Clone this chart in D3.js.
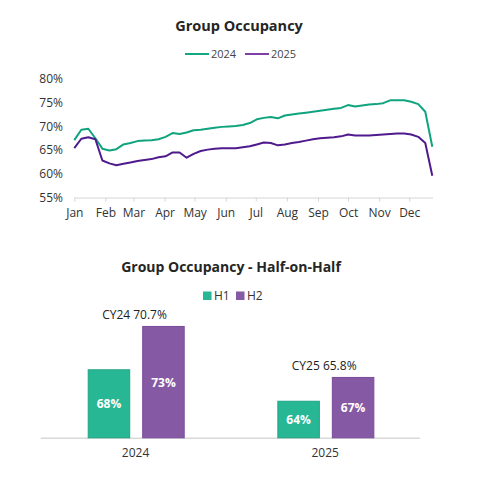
<!DOCTYPE html>
<html><head><meta charset="utf-8">
<script src="https://cdn.jsdelivr.net/npm/d3@7"></script>
<style>
html,body{margin:0;padding:0;background:#fff;}
svg{display:block;font-family:"Open Sans",sans-serif;}
</style></head>
<body><svg id="c" width="500" height="477"></svg>
<script>
// ---- Line chart data (weekly, 2025 calendar positions) ----
const weeks = ["01-01","01-08","01-15","01-22","01-29","02-05","02-12","02-19","02-26","03-05","03-12","03-19","03-26",
"04-02","04-09","04-16","04-23","04-30","05-07","05-14","05-21","05-28","06-04","06-11","06-18","06-25",
"07-02","07-09","07-16","07-23","07-30","08-06","08-13","08-20","08-27","09-03","09-10","09-17","09-24",
"10-01","10-08","10-15","10-22","10-29","11-05","11-12","11-19","11-26","12-03","12-10","12-17","12-24"];
const occ2024 = [67.1,69.3,69.5,67.5,65.3,64.9,65.2,66.2,66.5,66.9,67.0,67.1,67.3,67.8,68.6,68.4,68.7,69.2,69.3,69.5,
69.7,69.9,70.0,70.1,70.3,70.7,71.5,71.8,72.0,71.7,72.3,72.5,72.7,72.9,73.1,73.3,73.5,73.7,73.9,74.5,74.2,74.4,
74.6,74.7,74.9,75.5,75.5,75.5,75.2,74.7,73.1,65.7];
const occ2025 = [65.4,67.4,67.7,67.3,62.8,62.2,61.8,62.1,62.4,62.7,62.9,63.1,63.5,63.7,64.5,64.5,63.4,64.2,64.8,65.1,
65.3,65.4,65.4,65.4,65.6,65.8,66.2,66.6,66.5,66.0,66.2,66.5,66.7,67.0,67.3,67.5,67.6,67.7,67.9,68.3,68.1,68.1,
68.1,68.2,68.3,68.4,68.5,68.5,68.3,67.8,66.5,59.6];
const lineSeries = ["2024","2025"];
const yTicks = [55,60,65,70,75,80];
const monthLabels = ["Jan","Feb","Mar","Apr","May","Jun","Jul","Aug","Sep","Oct","Nov","Dec"];

// ---- Bar chart data ----
const years = ["2024","2025"];
const halves = ["H1","H2"];
const h1Values = [68.0,64.3];
const h2Values = [73.1,67.1];
const yearTotals = ["CY24 70.7%","CY25 65.8%"];

const lineColors = {"2024":"#0fa47f","2025":"#4f1a8e"};
const legendLineColors = {"2024":"#14a882","2025":"#7e3fa6"};
const barColors = {"H1":"#27b795","H2":"#8659a5"};
const barStroke = {"H1":"#1ea584","H2":"#7a4a9a"};

const svg = d3.select("#c");
const parse = d3.timeParse("%Y-%m-%d");

// ===== Line chart =====
svg.append("text").attr("x",239).attr("y",31).attr("text-anchor","middle")
  .attr("font-size",14.5).attr("font-weight",700).attr("fill","#252525").text("Group Occupancy");

// legend
const lg = svg.append("g");
[["2024",185],["2025",245]].forEach(([s,x0])=>{
  lg.append("line").attr("x1",x0).attr("x2",x0+24).attr("y1",54).attr("y2",54)
    .attr("stroke",legendLineColors[s]).attr("stroke-width",2);
  lg.append("text").attr("x",x0+26).attr("y",58).attr("font-size",11).attr("fill","#444").text(s);
});

const x = d3.scaleTime().domain([parse("2025-01-01"),parse("2025-12-24")]).range([74.3,432.3]);
const y = d3.scaleLinear().domain([55,80]).range([197.5,79]);

const xAxis = d3.axisBottom(x)
  .tickValues(d3.range(12).map(m=>new Date(2025,m,1)))
  .tickFormat((d,i)=>monthLabels[i]).tickSize(4).tickSizeOuter(0);
const gx = svg.append("g").attr("transform","translate(0,197.5)").call(xAxis);
gx.select(".domain").attr("stroke","#d6d6d6").attr("d","M74.3,0.5H433");
gx.selectAll(".tick line").attr("stroke","#d6d6d6");
gx.selectAll(".tick text").attr("font-size",12).attr("fill","#333").attr("dy","1.05em")
  .attr("font-family","Open Sans, sans-serif");

const gy = svg.append("g").attr("transform","translate(63,0)")
  .call(d3.axisLeft(y).tickValues(yTicks).tickFormat(d=>d+"%").tickSize(0).tickPadding(0));
gy.select(".domain").remove();
gy.selectAll(".tick text").attr("font-size",12).attr("fill","#333").attr("font-family","Open Sans, sans-serif");

const line = d3.line().x(d=>x(parse("2025-"+d.w))).y(d=>y(d.v));
[["2024",occ2024],["2025",occ2025]].forEach(([s,vals])=>{
  svg.append("path").datum(weeks.map((w,i)=>({w,v:vals[i]})))
    .attr("d",line).attr("fill","none").attr("stroke",lineColors[s]).attr("stroke-width",2)
    .attr("stroke-linejoin","round");
});

// ===== Bar chart =====
svg.append("text").attr("x",231).attr("y",272).attr("text-anchor","middle")
  .attr("font-size",14).attr("font-weight",700).attr("fill","#252525").text("Group Occupancy - Half-on-Half");

[["H1",203],["H2",236]].forEach(([h,x0])=>{
  svg.append("rect").attr("x",x0).attr("y",291.5).attr("width",8.5).attr("height",8.5).attr("fill",barColors[h]);
  svg.append("text").attr("x",x0+11).attr("y",300).attr("font-size",12).attr("fill","#333").text(h);
});

const xb = d3.scaleBand().domain(years).range([40.7,420]);
const xh = d3.scaleBand().domain(halves).range([47,144]).paddingInner(0.22);
const yb = d3.scaleLinear().domain([60,75]).range([437.8,310.3]);

svg.append("line").attr("x1",40.7).attr("x2",420).attr("y1",438.3).attr("y2",438.3)
  .attr("stroke","#d9d9d9").attr("stroke-width",1.5);

years.forEach((yr,i)=>{
  const g = svg.append("g").attr("transform",`translate(${xb(yr)},0)`);
  const vals = {"H1":h1Values[i],"H2":h2Values[i]};
  halves.forEach(h=>{
    const v = vals[h];
    g.append("rect").attr("x",xh(h)+0.5).attr("y",yb(v)).attr("width",xh.bandwidth()-1)
      .attr("height",yb(60)-yb(v)).attr("fill",barColors[h]).attr("stroke",barStroke[h]).attr("stroke-width",1);
    g.append("text").attr("x",xh(h)+xh.bandwidth()/2).attr("y",(yb(v)+yb(60))/2+4.5)
      .attr("text-anchor","middle").attr("font-size",12).attr("font-weight",700).attr("fill","#fff").text(Math.round(v)+"%");
  });
  const top = yb(Math.max(vals.H1,vals.H2));
  g.append("text").attr("x",xb.bandwidth()/2-1).attr("y",top-7).attr("text-anchor","middle")
    .attr("font-size",12).attr("fill","#222").text(yearTotals[i]);
  svg.append("text").attr("x",xb(yr)+xb.bandwidth()/2).attr("y",457).attr("text-anchor","middle")
    .attr("font-size",12).attr("fill","#333").text(yr);
});
</script></body></html>
